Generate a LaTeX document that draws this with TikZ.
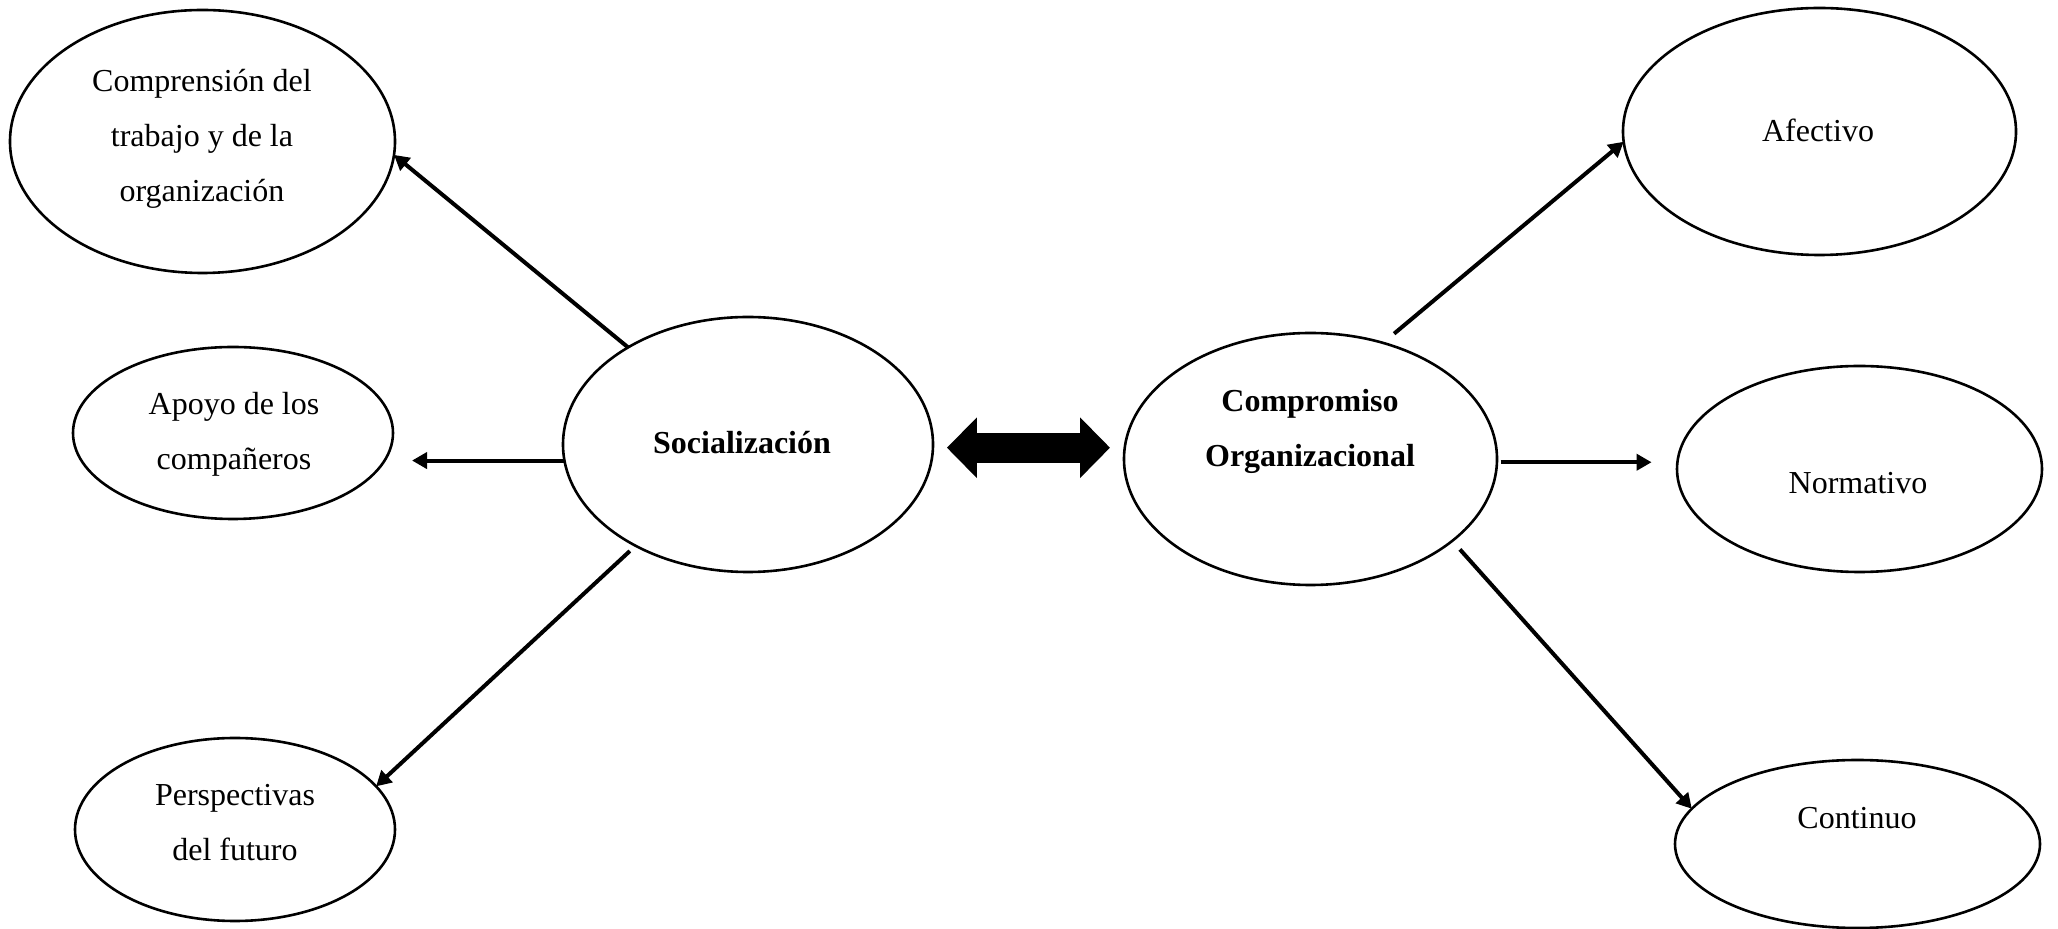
\documentclass[tikz,border=0pt]{standalone}
\usepackage{fontspec}
\setmainfont{Liberation Serif}
\usetikzlibrary{shapes.geometric,arrows.meta}

\begin{document}
\begin{tikzpicture}[x=0.5pt,y=-0.5pt,
  oval/.style={draw=black, line width=1.3pt, ellipse, inner sep=0pt, outer sep=0pt, fill=white},
  txt/.style={align=center, inner sep=0pt, font=\fontsize{16pt}{27.5pt}\selectfont},
  btxt/.style={txt, font=\fontsize{16pt}{27.5pt}\selectfont\bfseries},
  arr/.style={draw=black, line width=2pt, -{Triangle[length=7.5pt,width=8pt]}},
  bigarr/.style={draw=black, line width=15pt,
    {Triangle[length=15pt,width=29.5pt]}-{Triangle[length=15pt,width=29.5pt]}}
]
\useasboundingbox (0,0) rectangle (2058,929);

% outlines of the eight concepts
\node[oval, minimum width=192.5pt, minimum height=131.5pt] (compr) at (202.5,141.5) {};
\node[oval, minimum width=160pt,   minimum height=86pt]    (apoyo) at (233,433) {};
\node[oval, minimum width=160pt,   minimum height=91.5pt]  (persp) at (235,829.5) {};
\node[oval, minimum width=185pt,   minimum height=127.5pt] (soc)   at (748,444.5) {};
\node[oval, minimum width=186.5pt, minimum height=126pt]   (cm)    at (1310.5,459) {};
\node[oval, minimum width=196.5pt, minimum height=123.5pt] (afe)   at (1819.5,131.5) {};
\node[oval, minimum width=182.5pt, minimum height=103pt]   (norm)  at (1859.5,469) {};
\node[oval, minimum width=182.5pt, minimum height=84pt]    (cont)  at (1857.5,844) {};

% labels
\node[txt]  (compr-t) at (202,139)  {Comprensión del\\trabajo y de la\\organización};
\node[txt]  (apoyo-t) at (234,434)  {Apoyo de los\\compañeros};
\node[txt]  (persp-t) at (235,823)  {Perspectivas\\del futuro};
\node[btxt] (soc-t)   at (742,443)  {Socialización};
\node[btxt] (cm-t)    at (1310,431) {Compromiso\\Organizacional};
\node[txt]  (afe-t)   at (1818,130) {Afectivo};
\node[txt]  (norm-t)  at (1858,483) {Normativo};
\node[txt]  (cont-t)  at (1857,818) {Continuo};

% socialization dimensions
\draw[arr] (soc.141) -- (compr.-4.6);
\draw[arr, shorten >=9.5pt] (soc.185) -- (soc.185 -| apoyo.east);
\draw[arr, shorten <=3.9pt] (soc.222) -- (persp.17);

% commitment components
\draw[arr, shorten <=7.2pt] (cm.58.6) -- (afe.183.6);
\draw[arr, shorten <=1.8pt, shorten >=12.7pt] (cm.-1) -- (cm.-1 -| norm.west);
\draw[arr, shorten <=5.75pt] (cm.-30.8) -- (cont.168);

% two-way relation
\draw[bigarr, shorten <=7pt, shorten >=7pt] (soc.-1) -- (soc.-1 -| cm.west);
\end{tikzpicture}
\end{document}
